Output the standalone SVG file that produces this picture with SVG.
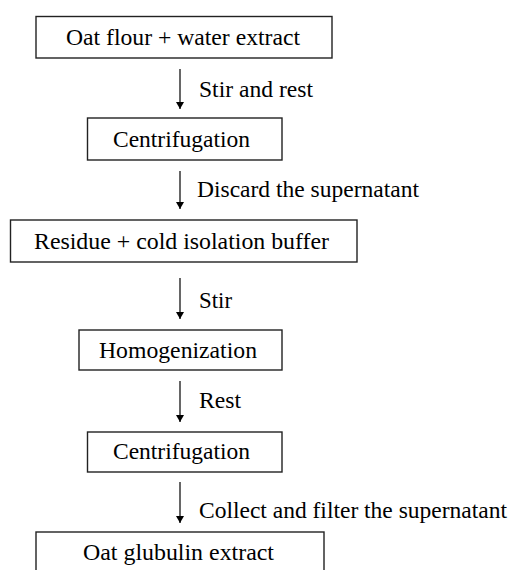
<svg xmlns="http://www.w3.org/2000/svg" width="512" height="570" viewBox="0 0 512 570">
<style>
.box{fill:#fff;stroke:#222;stroke-width:1.4}
.t{font-family:"Liberation Serif","Times New Roman",serif;font-size:23.5px;fill:#000}
.c{stroke:#000;stroke-width:1.2;fill:none}
</style>
<defs>
<marker id="ah" markerWidth="8" markerHeight="8" refX="7" refY="4" orient="auto" markerUnits="userSpaceOnUse">
<path d="M0,0 L7,4 L0,8 Z" fill="#000"/>
</marker>
</defs>
<rect width="512" height="570" fill="#fff"/>
<g id="n1"><rect class="box" x="36" y="16.5" width="296" height="41.5"/><text class="t" x="66" y="45" textLength="234" lengthAdjust="spacingAndGlyphs">Oat flour + water extract</text></g>
<g id="n2"><rect class="box" x="87.5" y="118" width="194.5" height="42"/><text class="t" x="113" y="147" textLength="137" lengthAdjust="spacingAndGlyphs">Centrifugation</text></g>
<g id="n3"><rect class="box" x="10.5" y="220" width="346.5" height="42"/><text class="t" x="34" y="249" textLength="295" lengthAdjust="spacingAndGlyphs">Residue + cold isolation buffer</text></g>
<g id="n4"><rect class="box" x="79" y="330" width="203" height="40"/><text class="t" x="99" y="358" textLength="158" lengthAdjust="spacingAndGlyphs">Homogenization</text></g>
<g id="n5"><rect class="box" x="87.5" y="432" width="194.5" height="40"/><text class="t" x="113" y="459" textLength="137" lengthAdjust="spacingAndGlyphs">Centrifugation</text></g>
<g id="n6"><rect class="box" x="36" y="532" width="288" height="50"/><text class="t" x="83" y="560" textLength="191" lengthAdjust="spacingAndGlyphs">Oat glubulin extract</text></g>
<g id="connectors">
<line class="c" x1="180" y1="69" x2="180" y2="109" marker-end="url(#ah)"/>
<line class="c" x1="180" y1="171" x2="180" y2="209" marker-end="url(#ah)"/>
<line class="c" x1="180" y1="278" x2="180" y2="319" marker-end="url(#ah)"/>
<line class="c" x1="180" y1="381" x2="180" y2="422" marker-end="url(#ah)"/>
<line class="c" x1="180" y1="482" x2="180" y2="523" marker-end="url(#ah)"/>
<text class="t" x="199" y="97" textLength="114" lengthAdjust="spacingAndGlyphs">Stir and rest</text>
<text class="t" x="197" y="197" textLength="222" lengthAdjust="spacingAndGlyphs">Discard the supernatant</text>
<text class="t" x="199" y="308" textLength="33" lengthAdjust="spacingAndGlyphs">Stir</text>
<text class="t" x="199" y="408" textLength="42" lengthAdjust="spacingAndGlyphs">Rest</text>
<text class="t" x="199" y="518" textLength="308" lengthAdjust="spacingAndGlyphs">Collect and filter the supernatant</text>
</g>
</svg>
